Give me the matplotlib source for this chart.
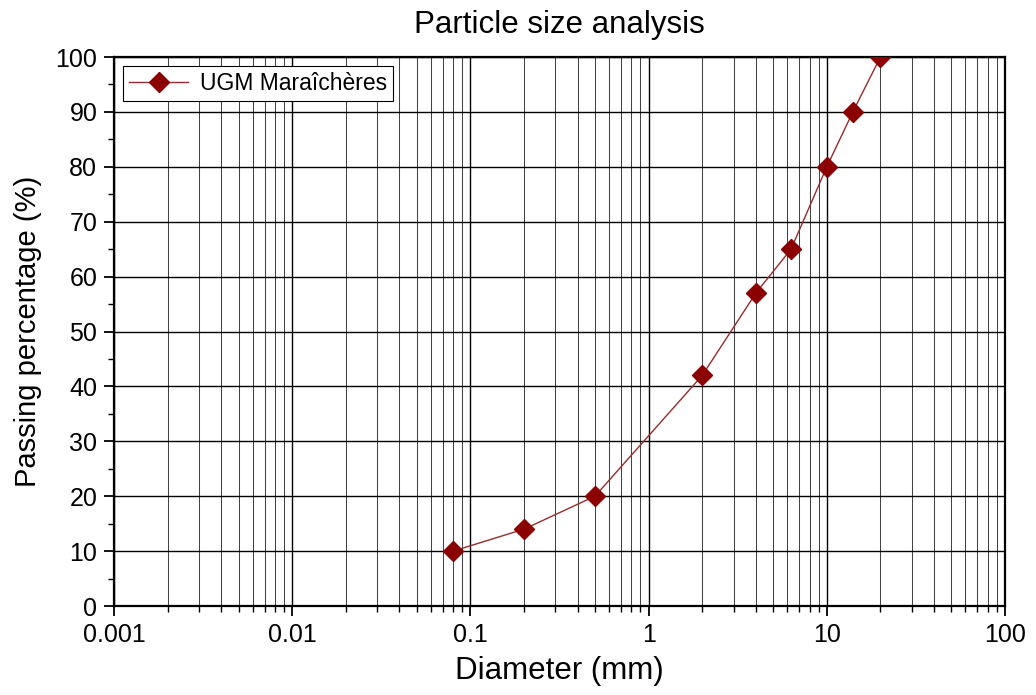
import matplotlib
matplotlib.use("Agg")
import matplotlib.pyplot as plt
from matplotlib.ticker import FixedLocator, LogLocator, MultipleLocator, NullFormatter

plt.rcParams['font.family'] = ['Liberation Sans', 'DejaVu Sans']

# sieve data
diameter = [0.08, 0.2, 0.5, 2, 4, 6.3, 10, 14, 20]
passing = [10, 14, 20, 42, 57, 65, 80, 90, 100]
series_name = "UGM Maraîchères"
x_ticks = [0.001, 0.01, 0.1, 1, 10, 100]
x_ticklabels = ["0.001", "0.01", "0.1", "1", "10", "100"]

fig = plt.figure(figsize=(10.36, 6.95), dpi=100)
ax = fig.add_axes([114 / 1036, 89 / 695, 891 / 1036, 549 / 695])

ax.plot(diameter, passing, color="#9a2a2a", lw=1.0, marker="D", ms=10,
        mfc="#8b0000", mec="#8b0000", label=series_name, zorder=3)

ax.set_xscale("log")
ax.set_xlim(0.001, 100)
ax.set_ylim(0, 100)
ax.xaxis.set_major_locator(FixedLocator(x_ticks))
ax.set_xticklabels(x_ticklabels)
ax.xaxis.set_minor_locator(LogLocator(base=10, subs=range(2, 10), numticks=20))
ax.xaxis.set_minor_formatter(NullFormatter())
ax.yaxis.set_major_locator(MultipleLocator(10))
ax.yaxis.set_minor_locator(MultipleLocator(5))

ax.grid(True, which="major", axis="both", color="black", lw=1.0)
ax.grid(True, which="minor", axis="x", color="#444444", lw=0.75)
ax.set_axisbelow(True)

for s in ax.spines.values():
    s.set_linewidth(1.6)
ax.tick_params(which="major", direction="out", length=7, width=1.3,
               labelsize=18, pad=5)
ax.tick_params(which="minor", direction="out", length=4, width=1.0)

ax.set_title("Particle size analysis", fontsize=22.5, pad=17)
ax.set_xlabel("Diameter (mm)", fontsize=22.5, labelpad=7)
ax.set_ylabel("Passing percentage (%)", fontsize=21, labelpad=10)

leg = ax.legend(loc="upper left", fontsize=16.5, frameon=True, fancybox=False,
                borderaxespad=0.4, handlelength=2.6, borderpad=0.25,
                handletextpad=0.5)
leg.get_frame().set_edgecolor("black")
leg.get_frame().set_linewidth(0.8)
leg.get_frame().set_alpha(1)

fig.savefig("out.png", dpi=100)
